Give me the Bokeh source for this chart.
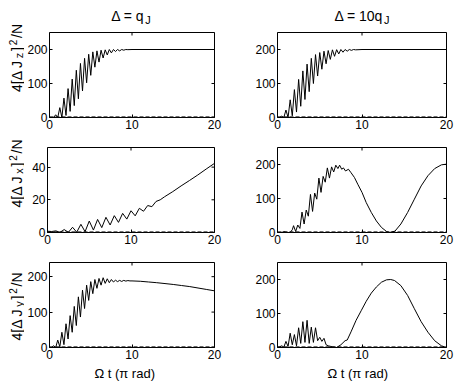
import math
from bokeh.plotting import figure
from bokeh.layouts import column, row
from bokeh.models import Label, Range1d, FixedTicker, ColumnDataSource
from bokeh.core.properties import value
from bokeh.embed import file_html
from bokeh.resources import INLINE

FONT = "Liberation Sans"

# ---------------- data ----------------
x_ticks = [0, 10, 20]

# top-left: 4[dJz]^2/N, Delta = q_J
tl_x = [0, 0.5, 0.75, 1.0, 1.25, 1.5, 1.75, 2.0, 2.25, 2.5, 2.75, 3.0, 3.25, 3.5, 3.75, 4.0,
        4.25, 4.5, 4.75, 5.0, 5.25, 5.5, 5.75, 6.0, 6.25, 6.5, 6.75, 7.0, 7.25, 7.5, 7.75, 8.0,
        8.25, 8.5, 8.75, 9.0, 9.25, 9.5, 10, 20]
tl_y = [0, 0, 8, 0, 29, 0, 57, 6, 85, 18, 113, 35, 139, 55, 159, 78,
        174, 102, 186, 124, 193, 148, 196, 163, 198, 175, 199, 184, 200, 190, 200, 194,
        200, 196, 200, 198, 200, 199.5, 200, 200]

# top-right: 4[dJz]^2/N, Delta = 10 q_J
tr_x = [0, 0.25, 0.5, 0.75, 1.0, 1.25, 1.5, 1.75, 2.0, 2.25, 2.5, 2.75, 3.0, 3.25, 3.5, 3.75,
        4.0, 4.25, 4.5, 4.75, 5.0, 5.25, 5.5, 5.75, 6.0, 6.25, 6.5, 6.75, 7.0, 7.25, 7.5, 7.75,
        8.0, 8.25, 8.5, 8.75, 9.0, 9.25, 10, 20]
tr_y = [0, 0, 4, 0, 22, 0, 52, 5, 82, 16, 112, 33, 137, 53, 157, 76,
        174, 100, 185, 122, 191, 142, 195, 158, 197, 171, 199, 180, 199.5, 187, 200, 192,
        200, 195, 200, 197.5, 200, 199, 200, 200]

# middle-left: 4[dJx]^2/N, Delta = q_J
ml_x = [0, 0.5, 1.0, 1.5, 2.0, 2.5, 3.0, 3.5, 4.0, 4.5, 5.0, 5.5, 6.0, 6.5, 7.0, 7.5,
        8.0, 8.5, 9.0, 9.5, 10.0, 10.5, 11.0, 11.5, 12.0, 12.5, 13.0, 13.5,
        14, 15, 16, 17, 18, 19, 20]
ml_y = [0.8, 0.6, 1.0, 0.1, 1.8, 0.1, 3.2, 0.2, 5.0, 0.5, 7.0, 1.5, 8.0, 3.0, 9.3, 4.6,
        10.3, 6.2, 11.7, 8.2, 13.3, 10.2, 14.8, 13.0, 16.5, 15.8, 19.0, 20.0,
        21.8, 25.0, 28.5, 31.8, 35.2, 38.8, 42.3]

# middle-right: 4[dJx]^2/N, Delta = 10 q_J
mr_x = [0, 0.5, 0.75, 1.0, 1.25, 1.5, 1.75,
        1.9, 2.15, 2.4, 2.65, 2.9, 3.15, 3.4, 3.65, 3.9, 4.15, 4.4, 4.65, 4.9, 5.15, 5.4,
        5.65, 5.9, 6.15, 6.4, 6.65, 6.9, 7.15,
        7.35, 7.6, 7.8, 8.05, 8.4, 8.7,
        9.1, 9.5, 10.0, 10.5, 11.1, 11.7, 12.3, 12.9, 13.25,
        13.9, 14.6, 15.4, 16.2, 17.0, 17.8, 18.6, 19.4, 20]
mr_y = [0, 0, 2.5, 1, 0, 0.5, 8,
        20, 3, 22, 12, 60, 25, 66, 48, 112, 62, 116, 98, 160, 118, 165,
        148, 190, 160, 193, 178, 198, 188,
        198, 186, 190, 181, 186, 176,
        162, 142, 118, 88, 59, 34, 15, 3, 0,
        4, 25, 59, 98, 137, 167, 188, 199, 201]

# bottom-left: 4[dJy]^2/N, Delta = q_J
bl_x = [0, 0.25, 0.5, 0.75, 1.0, 1.25, 1.5, 1.75, 2.0, 2.25, 2.5, 2.75, 3.0, 3.25, 3.5, 3.75,
        4.0, 4.25, 4.5, 4.75, 5.0, 5.25, 5.5, 5.75, 6.0, 6.25, 6.5, 6.75, 7.0, 7.25, 7.5, 7.75,
        8.0, 8.25, 8.5, 8.75, 9.0, 9.25, 9.5, 9.75,
        10, 11, 12, 13, 14, 15, 16, 17, 18, 19, 20]
bl_y = [0, 0, 5, 0, 21, 2, 43, 8, 67, 24, 90, 43, 116, 62, 143, 86,
        162, 110, 176, 133, 186, 152, 192, 167, 195, 176, 197, 181, 194, 183, 192, 185,
        190, 186, 189.5, 186.5, 189.5, 187.5, 189, 188,
        188, 187, 185, 183, 180.5, 178, 175, 172, 168, 164, 160]

# bottom-right: 4[dJy]^2/N, Delta = 10 q_J
br_x = [0, 0.25, 0.5, 0.75, 1.0, 1.25, 1.5, 1.75, 2.0, 2.25, 2.5, 2.75, 3.0, 3.25, 3.5, 3.75,
        4.0, 4.25, 4.5, 4.75, 5.0, 5.25, 5.5, 5.75, 6.0,
        6.5, 7.0, 7.5, 8.0, 8.25,
        8.7, 9.3, 9.9, 10.5, 11.1, 11.7, 12.3, 12.9, 13.4, 13.85,
        14.6, 15.4, 16.2, 17.0, 17.8, 18.6, 19.4, 20]
br_y = [0, 2, 5, 1, 18, 3, 42, 8, 38, 5, 58, 12, 76, 15, 80, 12,
        60, 15, 58, 20, 30, 18, 27, 8, 5,
        2, 0, 8, 20, 22,
        46, 80, 108, 136, 160, 178, 192, 199, 200, 197,
        182, 153, 114, 76, 45, 20, 5, 0]

# dashed reference series (close to zero)
dash_x = [0, 20]
tl_dash = [2.5, 2.5]
tr_dash = [2.5, 2.5]
ml_dash = [0.5, 0.5]
mr_dash = [2.5, 2.5]
bl_dash = [2.5, 2.5]
br_dash = [2.5, 2.5]

titles = [("Δ = q", "J"), ("Δ = 10q", "J")]
comp = ["z", "x", "y"]
y_max = [[250, 250], [52, 250], [240, 250]]
y_ticks = [[[0, 100, 200], [0, 100, 200]], [[0, 20, 40], [0, 100, 200]],
           [[0, 100, 200], [0, 100, 200]]]
x_label = "Ω t  (π rad)"

# ---------------- layout geometry (page has no margin) ----------------
TOTAL_H = 381
YLAB_W = 24
RIGHT_W = 432
COLW = [204, 228]
BLEFT = [23, 49]
BRIGHT = [14, 10]
ROWH = [107, 115, 115]
BTOP = [5, 13, 13]
BBOT = [17, 17, 17]
TITLE_H = 27
XLAB_H = 17
title_cx = [106.5, 337.5]
xlab_cx = [102, 335]
ylab_center = [323.5, 208, 75]   # px above the bottom of the page-high label strip

W = {'4': 0.556, '[': 0.278, 'Δ': 0.668, ' ': 0.278, 'J': 0.5, ']': 0.278, '/': 0.278,
     'N': 0.722, 'z': 0.5, 'x': 0.5, 'y': 0.5, '2': 0.556, '=': 0.584, 'q': 0.556,
     '1': 0.556, '0': 0.556}


def tw(s, size):
    return sum(W.get(c, 0.556) for c in s) * size


def blank_fig(w, h):
    f = figure(width=w, height=h, x_range=Range1d(0, w), y_range=Range1d(0, h),
               output_backend="svg", toolbar_location=None, x_axis_type=None,
               y_axis_type=None, min_border=0)
    f.outline_line_color = None
    f.xgrid.visible = False
    f.ygrid.visible = False
    f.background_fill_color = "white"
    f.border_fill_color = "white"
    return f


def add_rich_h(p, pieces, x, y, gap=0.8):
    adv = 0.0
    for text, size, shift in pieces:
        p.add_layout(Label(x=x + adv, y=y + shift, x_units="screen", y_units="screen",
                           text=text, text_font=FONT, text_font_size=f"{size}px",
                           text_color="black", text_align="left",
                           text_baseline="alphabetic"))
        adv += tw(text, size) + gap


def add_rich_v(p, pieces, x, y, gap=1.8):
    xs, ys, ts, fs = [], [], [], []
    adv = 0.0
    for text, size, shift in pieces:
        xs.append(x - shift)
        ys.append(y + adv)
        ts.append(text)
        fs.append(f"{size}px")
        adv += tw(text, size) + gap
    src = ColumnDataSource(dict(x=xs, y=ys, t=ts, fs=fs))
    p.text(x="x", y="y", text="t", text_font_size="fs", source=src, angle=math.pi / 2,
           text_font=value(FONT), text_color="black", text_align="left",
           text_baseline="alphabetic")


def style_axis(ax, ticks):
    ax.ticker = FixedTicker(ticks=ticks)
    ax.axis_line_color = None
    ax.major_tick_in = 3
    ax.major_tick_out = 0
    ax.major_tick_line_color = "black"
    ax.minor_tick_line_color = None
    ax.major_label_text_font = FONT
    ax.major_label_text_font_size = "12px"
    ax.major_label_text_color = "black"
    ax.major_label_standoff = 2


series = [[(tl_x, tl_y, tl_dash), (tr_x, tr_y, tr_dash)],
          [(ml_x, ml_y, ml_dash), (mr_x, mr_y, mr_dash)],
          [(bl_x, bl_y, bl_dash), (br_x, br_y, br_dash)]]

# y-label strip spanning the whole page height
ylab = blank_fig(YLAB_W, TOTAL_H)
for r in range(3):
    pieces = [("4[Δ J", 14, 0), (comp[r], 11, -2), ("]", 14, 0), ("2", 10, 4),
              ("/N", 14, 0)]
    total = sum(tw(t, s) for t, s, _ in pieces) + 1.8 * 4
    add_rich_v(ylab, pieces, 16, ylab_center[r] - total / 2)

# title strip
title_fig = blank_fig(RIGHT_W, TITLE_H)
for c in range(2):
    main, sub = titles[c]
    total = tw(main, 14) + 0.8 + tw(sub, 11)
    add_rich_h(title_fig, [(main, 14, 0), (sub, 11, -4)], title_cx[c] - total / 2, 12)

rows = [title_fig]
for r in range(3):
    figs = []
    for c in range(2):
        xs, ys, yd = series[r][c]
        ymax = y_max[r][c]
        p = figure(width=COLW[c], height=ROWH[r], x_range=Range1d(0, 20),
                   y_range=Range1d(0, ymax), output_backend="svg",
                   toolbar_location=None, min_border_left=BLEFT[c], min_border_right=BRIGHT[c],
                   min_border_top=BTOP[r], min_border_bottom=BBOT[r])
        p.outline_line_color = "black"
        p.outline_line_width = 1
        p.outline_line_alpha = 1
        p.xgrid.visible = False
        p.ygrid.visible = False
        p.background_fill_color = "white"
        p.border_fill_color = "white"
        style_axis(p.xaxis[0], x_ticks)
        style_axis(p.yaxis[0], y_ticks[r][c])
        # mirrored inward ticks on the top and right edges (half clipped by the frame)
        p.scatter(x=x_ticks, y=[ymax] * len(x_ticks), marker="dash", angle=math.pi / 2,
                  size=6, line_color="black", line_width=1)
        p.scatter(x=[20] * len(y_ticks[r][c]), y=y_ticks[r][c], marker="dash",
                  size=6, line_color="black", line_width=1)

        p.line(dash_x, yd, line_color="#555555", line_width=1, line_dash="4 2")
        p.line(xs, ys, line_color="black", line_width=1)
        figs.append(p)
    rows.append(row(*figs))

xlab_fig = blank_fig(RIGHT_W, XLAB_H)
for c in range(2):
    xlab_fig.add_layout(Label(x=xlab_cx[c], y=8, x_units="screen", y_units="screen",
                              text=x_label, text_font=FONT, text_font_size="13px",
                              text_color="black", text_align="center",
                              text_baseline="alphabetic"))
rows.append(xlab_fig)

layout = row(ylab, column(*rows))
open("out.html", "w").write(file_html(layout, INLINE))
